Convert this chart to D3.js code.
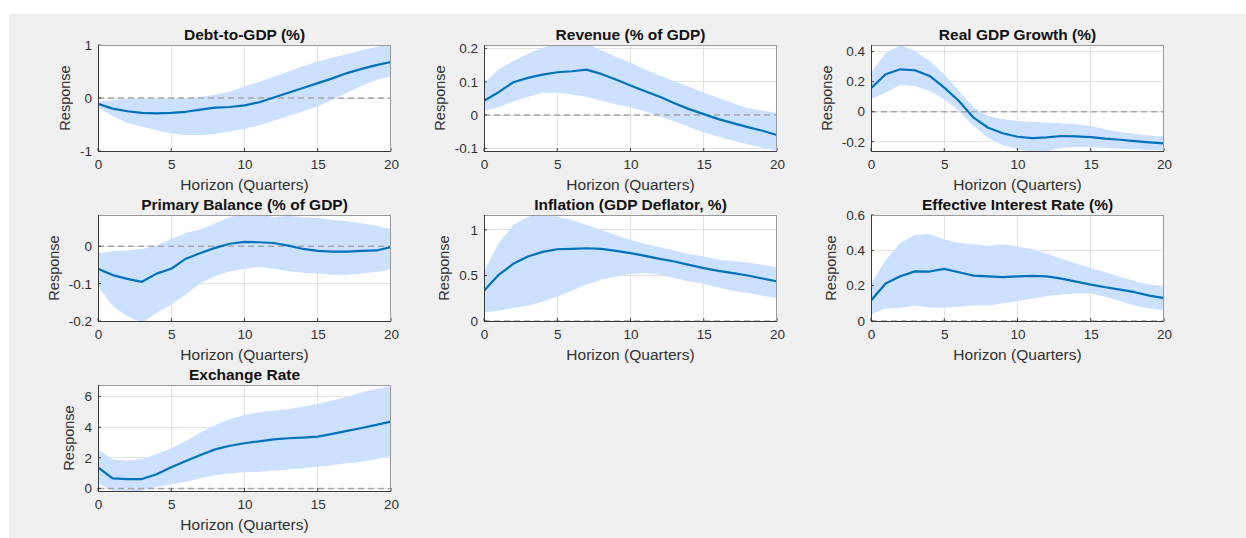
<!DOCTYPE html>
<html>
<head>
<meta charset="utf-8">
<script src="https://cdn.jsdelivr.net/npm/d3@7/dist/d3.min.js"></script>
<style>
  html, body { margin: 0; padding: 0; background: #ffffff; }
  svg { display: block; font-family: "Liberation Sans", Arial, Helvetica, sans-serif; }
</style>
</head>
<body>
<svg id="chart" width="1246" height="538"></svg>
<script>
// Impulse responses over a 20-quarter horizon: median path with a confidence band.
const horizon = [0,1,2,3,4,5,6,7,8,9,10,11,12,13,14,15,16,17,18,19,20];
const xTicks = [0, 5, 10, 15, 20];

// Debt-to-GDP (%)
const debtMid = [-0.11,-0.20,-0.25,-0.28,-0.29,-0.28,-0.26,-0.22,-0.18,-0.17,-0.14,-0.08,0.01,0.10,0.19,0.28,0.37,0.47,0.55,0.62,0.68];
const debtLo  = [-0.18,-0.34,-0.47,-0.54,-0.61,-0.67,-0.70,-0.70,-0.68,-0.63,-0.58,-0.52,-0.43,-0.34,-0.25,-0.16,-0.03,0.10,0.23,0.34,0.41];
const debtHi  = [-0.07,-0.04,-0.02,-0.02,-0.02,-0.01,0.00,0.02,0.06,0.12,0.22,0.30,0.40,0.50,0.60,0.69,0.76,0.83,0.90,0.96,1.02];
const debtTicks = ["-1", "0", "1"];

// Revenue (% of GDP)
const revMid = [0.043,0.069,0.099,0.112,0.122,0.129,0.132,0.137,0.124,0.107,0.089,0.072,0.055,0.036,0.018,0.003,-0.012,-0.024,-0.036,-0.047,-0.060];
const revLo  = [0.014,0.024,0.041,0.055,0.067,0.067,0.062,0.055,0.043,0.033,0.024,0.011,-0.004,-0.019,-0.036,-0.052,-0.065,-0.077,-0.088,-0.098,-0.107];
const revHi  = [0.097,0.137,0.163,0.185,0.203,0.215,0.218,0.215,0.195,0.176,0.158,0.137,0.119,0.102,0.085,0.067,0.052,0.036,0.021,0.014,0.006];
const revTicks = ["-0.1", "0", "0.1", "0.2"];

// Real GDP Growth (%)
const gdpMid = [0.156,0.249,0.282,0.276,0.238,0.160,0.071,-0.040,-0.107,-0.144,-0.167,-0.176,-0.171,-0.162,-0.164,-0.169,-0.180,-0.187,-0.196,-0.204,-0.211];
const gdpLo  = [0.082,0.127,0.178,0.171,0.138,0.082,0.004,-0.096,-0.173,-0.224,-0.251,-0.265,-0.265,-0.240,-0.236,-0.236,-0.242,-0.247,-0.251,-0.256,-0.256];
const gdpHi  = [0.260,0.393,0.442,0.404,0.338,0.249,0.138,0.027,-0.029,-0.051,-0.062,-0.069,-0.073,-0.078,-0.084,-0.096,-0.118,-0.136,-0.147,-0.158,-0.167];
const gdpTicks = ["-0.2", "0", "0.2", "0.4"];

// Primary Balance (% of GDP)
const pbMid = [-0.060,-0.077,-0.087,-0.095,-0.073,-0.060,-0.033,-0.018,-0.004,0.007,0.012,0.011,0.009,0.002,-0.007,-0.012,-0.014,-0.014,-0.012,-0.011,-0.002];
const pbLo  = [-0.107,-0.160,-0.187,-0.205,-0.178,-0.156,-0.129,-0.098,-0.080,-0.067,-0.060,-0.055,-0.060,-0.067,-0.071,-0.073,-0.076,-0.076,-0.073,-0.069,-0.062];
const pbHi  = [-0.018,-0.013,-0.011,-0.007,0.002,0.020,0.036,0.046,0.062,0.078,0.090,0.090,0.078,0.082,0.078,0.076,0.071,0.067,0.062,0.055,0.046];
const pbTicks = ["-0.2", "-0.1", "0"];

// Inflation (GDP Deflator, %)
const infMid = [0.332,0.507,0.628,0.708,0.759,0.788,0.792,0.799,0.792,0.770,0.745,0.715,0.682,0.653,0.617,0.580,0.551,0.526,0.500,0.467,0.434];
const infLo  = [0.095,0.113,0.142,0.168,0.215,0.270,0.332,0.398,0.453,0.489,0.515,0.526,0.507,0.471,0.434,0.405,0.369,0.332,0.307,0.277,0.252];
const infHi  = [0.544,0.854,1.055,1.146,1.180,1.146,1.110,1.055,1.000,0.945,0.890,0.847,0.810,0.774,0.737,0.708,0.672,0.660,0.642,0.617,0.591];
const infTicks = ["0", "0.5", "1"];

// Effective Interest Rate (%)
const eirMid = [0.116,0.212,0.253,0.281,0.280,0.295,0.276,0.257,0.253,0.248,0.253,0.255,0.253,0.240,0.223,0.206,0.191,0.178,0.163,0.144,0.129];
const eirLo  = [0.038,0.071,0.075,0.088,0.075,0.075,0.081,0.088,0.088,0.099,0.113,0.126,0.141,0.150,0.156,0.156,0.137,0.113,0.088,0.071,0.060];
const eirHi  = [0.206,0.347,0.441,0.488,0.493,0.463,0.441,0.435,0.426,0.435,0.422,0.407,0.381,0.353,0.325,0.300,0.276,0.250,0.225,0.206,0.193];
const eirTicks = ["0", "0.2", "0.4", "0.6"];

// Exchange Rate
const fxMid = [1.38,0.66,0.61,0.61,0.92,1.38,1.79,2.18,2.55,2.79,2.95,3.08,3.21,3.28,3.32,3.38,3.56,3.76,3.95,4.15,4.37];
const fxLo  = [0.33,-0.15,-0.22,-0.15,0.11,0.26,0.44,0.66,0.87,0.98,1.05,1.09,1.16,1.24,1.31,1.42,1.53,1.64,1.75,1.92,2.12];
const fxHi  = [2.55,1.90,1.81,1.92,2.25,2.62,3.10,3.65,4.15,4.52,4.80,4.98,5.09,5.17,5.35,5.52,5.74,6.00,6.29,6.50,6.70];
const fxTicks = ["0", "2", "4", "6"];

const panels = [
  { title: "Debt-to-GDP (%)",             mid: debtMid, lo: debtLo, hi: debtHi, yDomain: [-1, 1],          ticks: debtTicks, col: 0, row: 0 },
  { title: "Revenue (% of GDP)",          mid: revMid,  lo: revLo,  hi: revHi,  yDomain: [-0.108, 0.211],  ticks: revTicks,  col: 1, row: 0 },
  { title: "Real GDP Growth (%)",         mid: gdpMid,  lo: gdpLo,  hi: gdpHi,  yDomain: [-0.262, 0.444],  ticks: gdpTicks,  col: 2, row: 0 },
  { title: "Primary Balance (% of GDP)",  mid: pbMid,   lo: pbLo,   hi: pbHi,   yDomain: [-0.2, 0.084],    ticks: pbTicks,   col: 0, row: 1 },
  { title: "Inflation (GDP Deflator, %)", mid: infMid,  lo: infLo,  hi: infHi,  yDomain: [0, 1.164],       ticks: infTicks,  col: 1, row: 1 },
  { title: "Effective Interest Rate (%)", mid: eirMid,  lo: eirLo,  hi: eirHi,  yDomain: [0, 0.6],         ticks: eirTicks,  col: 2, row: 1 },
  { title: "Exchange Rate",               mid: fxMid,   lo: fxLo,   hi: fxHi,   yDomain: [-0.17, 6.76],    ticks: fxTicks,   col: 0, row: 2 }
];

const svg = d3.select("#chart");

// figure background
svg.append("rect").attr("x", 9).attr("y", 14).attr("width", 1237).attr("height", 524).attr("fill", "#f0f0f0");

const colX = [98, 484, 871];
const rowY = [45, 215, 385];
const plotW = 293, plotH = 106;

panels.forEach((p, i) => {
  const x0 = colX[p.col], y0 = rowY[p.row];
  const g = svg.append("g").attr("transform", `translate(${x0},${y0})`);

  const x = d3.scaleLinear().domain([0, 20]).range([0, plotW]);
  const y = d3.scaleLinear().domain(p.yDomain).range([plotH, 0]);
  const yVals = p.ticks.map(Number);

  g.append("rect").attr("width", plotW).attr("height", plotH).attr("fill", "#ffffff");

  const clipId = "clip" + i;
  g.append("clipPath").attr("id", clipId).append("rect").attr("width", plotW).attr("height", plotH);

  // grid
  const grid = g.append("g").attr("class", "grid");
  grid.selectAll(".gx").data(xTicks.slice(1, -1)).join("line")
    .attr("x1", d => x(d)).attr("x2", d => x(d)).attr("y1", 0).attr("y2", plotH)
    .attr("stroke", "#e3e3e3").attr("stroke-width", 1).attr("shape-rendering", "crispEdges");
  grid.selectAll(".gy").data(yVals).join("line")
    .attr("x1", 0).attr("x2", plotW).attr("y1", d => y(d)).attr("y2", d => y(d))
    .attr("stroke", "#e3e3e3").attr("stroke-width", 1).attr("shape-rendering", "crispEdges");

  const plot = g.append("g").attr("clip-path", `url(#${clipId})`);

  // confidence band
  const area = d3.area().x((d, k) => x(horizon[k])).y0((d, k) => y(p.lo[k])).y1((d, k) => y(p.hi[k]));
  plot.append("path").datum(p.mid).attr("d", area).attr("fill", "#cce0ff");

  // zero reference
  plot.append("line").attr("x1", 0).attr("x2", plotW).attr("y1", y(0)).attr("y2", y(0))
    .attr("stroke", "#a6a6a6").attr("stroke-width", 1.5).attr("stroke-dasharray", "6,4");

  // median response
  const line = d3.line().x((d, k) => x(horizon[k])).y(d => y(d));
  plot.append("path").datum(p.mid).attr("d", line)
    .attr("fill", "none").attr("stroke", "#0072bd").attr("stroke-width", 2.2).attr("stroke-linejoin", "round");

  // axes via d3
  const xAxis = d3.axisBottom(x).tickValues(xTicks).tickSize(0).tickPadding(8).tickFormat(d => String(d));
  const yAxis = d3.axisLeft(y).tickValues(yVals).tickSize(0).tickPadding(6).tickFormat((d, k) => p.ticks[k]);

  const gx = g.append("g").attr("transform", `translate(0,${plotH})`).call(xAxis);
  const gy = g.append("g").call(yAxis);
  [gx, gy].forEach(a => {
    a.select(".domain").remove();
    a.selectAll("text").attr("font-size", 13.5).attr("fill", "#303030")
      .attr("font-family", "'Liberation Sans', Arial, sans-serif");
  });

  // inward tick marks
  g.selectAll(".tx").data(xTicks).join("line")
    .attr("x1", d => x(d)).attr("x2", d => x(d)).attr("y1", plotH).attr("y2", plotH - 3)
    .attr("stroke", "#404040").attr("stroke-width", 1);
  g.selectAll(".ty").data(yVals).join("line")
    .attr("x1", 0).attr("x2", 3).attr("y1", d => y(d)).attr("y2", d => y(d))
    .attr("stroke", "#404040").attr("stroke-width", 1);

  // box
  g.append("line").attr("x1", 0).attr("x2", plotW).attr("y1", 0.5).attr("y2", 0.5).attr("stroke", "#9a9a9a");
  g.append("line").attr("x1", plotW - 0.5).attr("x2", plotW - 0.5).attr("y1", 0).attr("y2", plotH).attr("stroke", "#9a9a9a");
  g.append("line").attr("x1", 0.5).attr("x2", 0.5).attr("y1", 0).attr("y2", plotH + 0.5).attr("stroke", "#3a3a3a");
  g.append("line").attr("x1", 0).attr("x2", plotW).attr("y1", plotH + 0.5).attr("y2", plotH + 0.5).attr("stroke", "#3a3a3a");

  // tick label width sets the y-label offset
  let maxW = 0;
  gy.selectAll("text").each(function() { maxW = Math.max(maxW, this.getComputedTextLength()); });

  g.append("text").attr("x", plotW / 2).attr("y", -5).attr("text-anchor", "middle")
    .attr("font-size", 15.5).attr("font-weight", "bold").attr("fill", "#111")
    .text(p.title);

  g.append("text").attr("x", plotW / 2).attr("y", plotH + 39).attr("text-anchor", "middle")
    .attr("font-size", 15.5).attr("fill", "#303030")
    .text("Horizon (Quarters)");

  g.append("text")
    .attr("transform", `translate(${-6 - maxW - 10},${plotH / 2}) rotate(-90)`)
    .attr("text-anchor", "middle").attr("font-size", 14.5).attr("fill", "#303030")
    .text("Response");
});
</script>
</body>
</html>
